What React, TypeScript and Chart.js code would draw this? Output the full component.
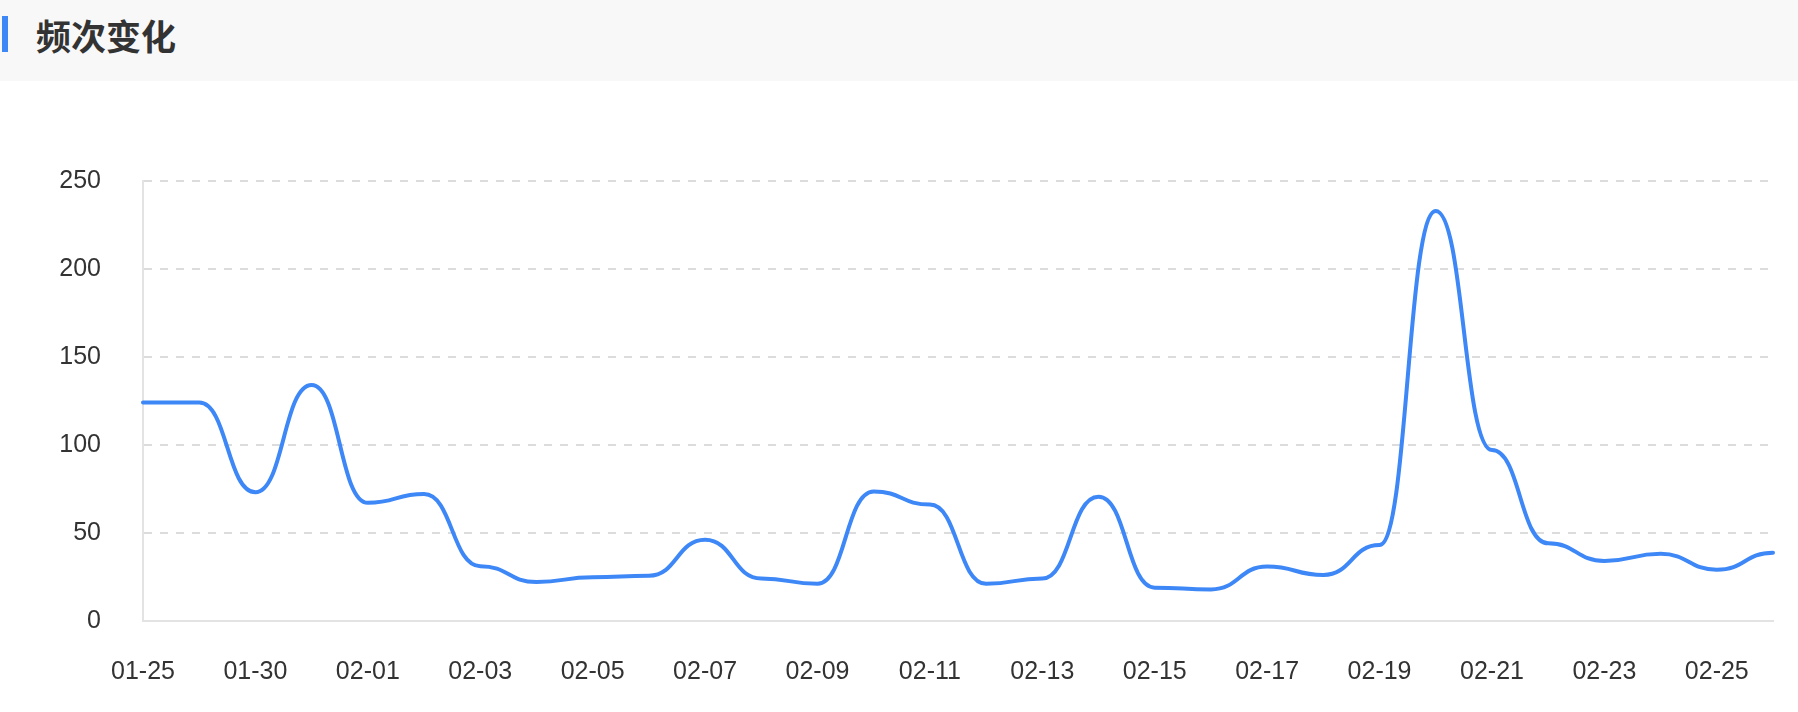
import React, { useEffect, useRef } from 'react';
import { Chart, registerables } from 'chart.js';

Chart.register(...registerables);

// ---- data ----
const categories: string[] = [
  '01-25', '01-29', '01-30', '01-31',
  '02-01', '02-02', '02-03', '02-04', '02-05', '02-06', '02-07', '02-08', '02-09', '02-10',
  '02-11', '02-12', '02-13', '02-14', '02-15', '02-16', '02-17', '02-18', '02-19', '02-20',
  '02-21', '02-22', '02-23', '02-24', '02-25', '02-26',
];
const frequency: number[] = [
  124, 124, 73, 134, 67, 72, 31, 22, 24.7, 25.6,
  46, 24, 21, 73.5, 66, 21, 24, 70.5, 18.8, 17.8,
  30.8, 26, 43, 233, 97, 44, 34, 38, 29, 38.6,
];
const yMin = 0;
const yMax = 250;
const yStep = 50;
const titleText = '频次变化';

const LINE_COLOR = '#3d87f7';
const TEXT_COLOR = '#333333';
const SMOOTH = 0.5;

// Smooth curve with horizontal tangents at every point (like a "monotone x" smooth)
const horizontalSmooth = {
  id: 'horizontalSmooth',
  beforeDatasetDraw(chart: any, args: any) {
    const meta = chart.getDatasetMeta(args.index);
    const line = meta.dataset;
    if (!line) return;
    line.updateControlPoints(chart.chartArea, meta.iScale ? meta.iScale.axis : 'x');
    const pts = meta.data as any[];
    for (let i = 0; i < pts.length; i++) {
      const p = pts[i];
      const prev = pts[i - 1];
      const next = pts[i + 1];
      p.cp1x = prev ? p.x - (p.x - prev.x) * SMOOTH : p.x;
      p.cp1y = p.y;
      p.cp2x = next ? p.x + (next.x - p.x) * SMOOTH : p.x;
      p.cp2y = p.y;
    }
    line._path = undefined;
  },
};

function LineChart() {
  const ref = useRef<HTMLCanvasElement | null>(null);
  useEffect(() => {
    if (!ref.current) return;
    const chart = new Chart(ref.current, {
      type: 'line',
      data: {
        labels: categories,
        datasets: [
          {
            label: titleText,
            data: frequency,
            borderColor: LINE_COLOR,
            borderWidth: 4,
            pointRadius: 0,
            pointHoverRadius: 0,
            fill: false,
            tension: 0.4,
            borderCapStyle: 'round',
            borderJoinStyle: 'round',
          },
        ],
      },
      options: {
        responsive: false,
        animation: false,
        events: [],
        layout: { padding: { left: 0, top: 101, right: 25, bottom: 0 } },
        plugins: {
          legend: { display: false },
          tooltip: { enabled: false },
          title: { display: false },
        },
        scales: {
          x: {
            type: 'category',
            offset: false,
            grid: { display: false, drawTicks: false },
            border: { display: true, color: '#e3e3e3', width: 2 },
            ticks: {
              autoSkip: false,
              maxRotation: 0,
              minRotation: 0,
              padding: 36,
              color: TEXT_COLOR,
              font: { family: '"Liberation Sans", Arial, sans-serif', size: 25 },
              callback: function (this: any, _v: any, index: number) {
                return index % 2 === 0 ? categories[index] : '';
              },
            },
            afterFit: (s: any) => {
              s.height = 632 - 540.7;
              s.paddingLeft = 0;
              s.paddingRight = 0;
            },
          },
          y: {
            min: yMin,
            max: yMax,
            grid: {
              drawTicks: false,
              lineWidth: 2,
              color: (ctx: any) => (ctx.tick && ctx.tick.value === 0 ? 'rgba(0,0,0,0)' : '#dcdcdc'),
            },
            border: { display: true, color: '#e3e3e3', width: 2, dash: [8, 8] },
            ticks: {
              stepSize: yStep,
              padding: 42,
              color: TEXT_COLOR,
              font: { family: '"Liberation Sans", Arial, sans-serif', size: 25 },
            },
            afterFit: (s: any) => {
              s.width = 143;
            },
          },
        },
      },
      plugins: [horizontalSmooth],
    } as any);
    return () => chart.destroy();
  }, []);
  return (
    <canvas
      ref={ref}
      width={1798}
      height={632}
      style={{ position: 'absolute', left: 0, top: 80, width: 1798, height: 632 }}
    />
  );
}

export default function App() {
  return (
    <div
      style={{
        position: 'absolute',
        left: 0,
        top: 0,
        width: 1798,
        height: 712,
        background: '#ffffff',
        overflow: 'hidden',
      }}
    >
      <div
        style={{
          position: 'absolute',
          left: 0,
          top: 0,
          width: 1798,
          height: 81,
          background: '#f8f8f8',
        }}
      >
        <div
          style={{
            position: 'absolute',
            left: 2,
            top: 16,
            width: 6,
            height: 36,
            background: LINE_COLOR,
          }}
        />
        <div
          style={{
            position: 'absolute',
            left: 36,
            top: 15,
            height: 40,
            lineHeight: '40px',
            fontSize: 35,
            fontWeight: 700,
            color: TEXT_COLOR,
            fontFamily: '"Noto Sans CJK SC", "Noto Sans", sans-serif',
            whiteSpace: 'nowrap',
          }}
        >
          {titleText}
        </div>
      </div>
      <LineChart />
    </div>
  );
}
